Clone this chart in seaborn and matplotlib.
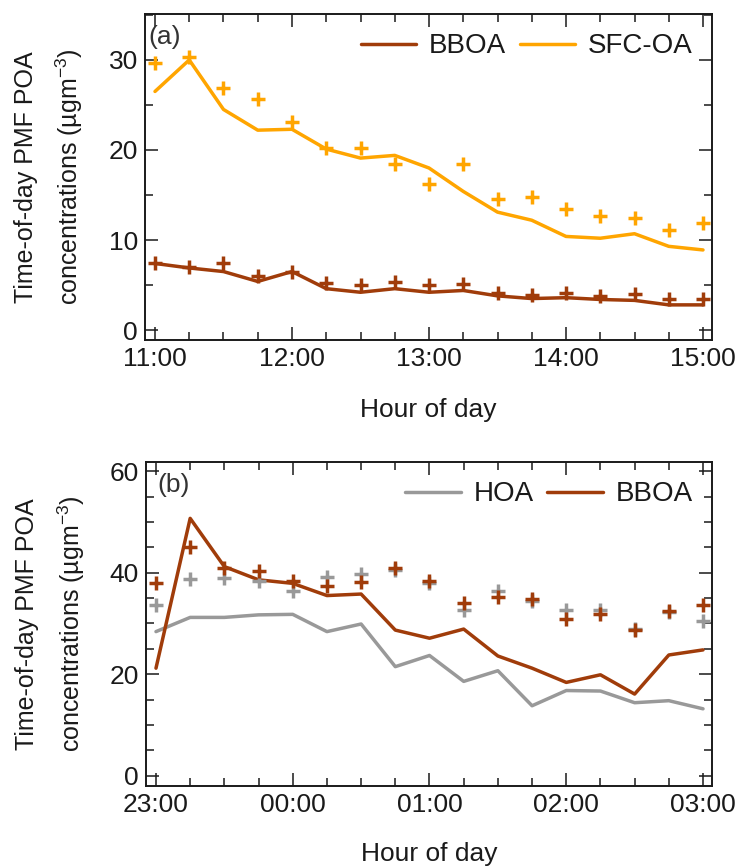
import matplotlib
matplotlib.use("Agg")
import matplotlib.pyplot as plt
from matplotlib.ticker import MultipleLocator, FixedLocator, FixedFormatter
import seaborn as sns

# ---- panel (a): 11:00-15:00 ----
times_a = ["11:00", "11:15", "11:30", "11:45", "12:00", "12:15", "12:30", "12:45",
           "13:00", "13:15", "13:30", "13:45", "14:00", "14:15", "14:30", "14:45", "15:00"]
bboa_line_a = [7.4, 6.9, 6.5, 5.4, 6.5, 4.6, 4.2, 4.6, 4.2, 4.4, 3.8, 3.5, 3.6, 3.4, 3.3, 2.8, 2.8]
sfc_line_a = [26.5, 30.0, 24.5, 22.2, 22.3, 20.1, 19.1, 19.4, 18.0, 15.4, 13.1, 12.2, 10.4, 10.2, 10.7, 9.3, 8.9]
bboa_pts_a = [7.5, 7.0, 7.5, 6.0, 6.5, 5.2, 5.0, 5.3, 5.0, 5.1, 4.1, 3.9, 4.1, 3.8, 4.0, 3.4, 3.4]
sfc_pts_a = [29.7, 30.3, 26.9, 25.7, 23.1, 20.2, 20.2, 18.4, 16.2, 18.4, 14.6, 14.8, 13.5, 12.7, 12.4, 11.1, 11.9]
ticklabels_a = ["11:00", "12:00", "13:00", "14:00", "15:00"]

# ---- panel (b): 23:00-03:00 ----
times_b = ["23:00", "23:15", "23:30", "23:45", "00:00", "00:15", "00:30", "00:45",
           "01:00", "01:15", "01:30", "01:45", "02:00", "02:15", "02:30", "02:45", "03:00"]
hoa_line_b = [28.4, 31.2, 31.2, 31.7, 31.8, 28.4, 29.9, 21.5, 23.7, 18.6, 20.7, 13.8, 16.8, 16.7, 14.4, 14.8, 13.2]
bboa_line_b = [21.2, 50.7, 41.2, 38.6, 37.9, 35.5, 35.8, 28.7, 27.1, 28.9, 23.6, 21.2, 18.4, 19.9, 16.1, 23.8, 24.8]
hoa_pts_b = [33.7, 38.7, 39.0, 38.3, 36.3, 39.2, 39.8, 40.6, 38.0, 32.7, 36.3, 34.4, 32.7, 32.7, 28.9, 32.3, 30.4]
bboa_pts_b = [37.9, 45.0, 40.9, 40.4, 38.4, 37.3, 38.1, 40.9, 38.4, 34.0, 35.3, 34.8, 30.9, 31.8, 28.7, 32.5, 33.7]
ticklabels_b = ["23:00", "00:00", "01:00", "02:00", "03:00"]

C_BBOA = "#A03C0A"
C_SFC = "#FFA500"
C_HOA = "#999999"


def to_hours(labels, wrap_after_midnight=False):
    """Convert HH:MM strings to decimal hours (continuing past midnight if asked)."""
    out = []
    for s in labels:
        h, m = (int(p) for p in s.split(":"))
        if wrap_after_midnight and h < 12:
            h += 24
        out.append(h + m / 60.0)
    return out


sns.set_style("ticks")
plt.rcParams["font.family"] = ["Liberation Sans", "DejaVu Sans"]
plt.rcParams["mathtext.fontset"] = "custom"
plt.rcParams["mathtext.rm"] = "Liberation Sans"
plt.rcParams["mathtext.it"] = "Liberation Sans"

fig = plt.figure(figsize=(7.41, 8.68), dpi=100)
ax_a = fig.add_axes([145 / 741, 1 - 340 / 868, 567 / 741, 326 / 868])
ax_b = fig.add_axes([146 / 741, 1 - 786 / 868, 566 / 741, 324 / 868])

LW = 2.5
MS = 95
MEW = 2.5

# panel (a)
xa = to_hours(times_a)
sns.lineplot(x=xa, y=bboa_line_a, color=C_BBOA, lw=LW, ax=ax_a, label="BBOA", sort=False)
sns.lineplot(x=xa, y=sfc_line_a, color=C_SFC, lw=LW, ax=ax_a, label="SFC-OA", sort=False)
sns.scatterplot(x=xa, y=sfc_pts_a, color=C_SFC, marker="+", s=MS, linewidth=MEW, ax=ax_a, legend=False, zorder=3)
sns.scatterplot(x=xa, y=bboa_pts_a, color=C_BBOA, marker="+", s=MS, linewidth=MEW, ax=ax_a, legend=False, zorder=3)

# panel (b)
xb = to_hours(times_b, wrap_after_midnight=True)
sns.lineplot(x=xb, y=hoa_line_b, color=C_HOA, lw=LW, ax=ax_b, label="HOA", sort=False)
sns.lineplot(x=xb, y=bboa_line_b, color=C_BBOA, lw=LW, ax=ax_b, label="BBOA", sort=False)
sns.scatterplot(x=xb, y=hoa_pts_b, color=C_HOA, marker="+", s=MS, linewidth=MEW, ax=ax_b, legend=False, zorder=3)
sns.scatterplot(x=xb, y=bboa_pts_b, color=C_BBOA, marker="+", s=MS, linewidth=MEW, ax=ax_b, legend=False, zorder=3)

FS = 19
ylabel = "Time-of-day PMF POA\nconcentrations (µgm$^{-3}$)"

for ax, xs, labels, ylim, ymaj, tag, tagx in [
    (ax_a, xa, ticklabels_a, (-1.1, 35.1), 10, "(a)", 0.006),
    (ax_b, xb, ticklabels_b, (-2.0, 61.8), 20, "(b)", 0.02),
]:
    ax.set_xlim(xs[0] - 10 / 137, xs[-1] + 9 / 137)
    ax.set_ylim(*ylim)
    ax.xaxis.set_major_locator(FixedLocator(xs[::4]))
    ax.xaxis.set_major_formatter(FixedFormatter(labels))
    ax.xaxis.set_minor_locator(FixedLocator(xs))
    ax.yaxis.set_major_locator(MultipleLocator(ymaj))
    ax.yaxis.set_minor_locator(MultipleLocator(5))
    ax.tick_params(which="both", direction="in", top=True, right=True, width=1.1,
                   colors="#1a1a1a", labelsize=FS)
    ax.tick_params(which="major", length=9.5, pad=5)
    ax.tick_params(which="minor", length=5.5)
    for sp in ax.spines.values():
        sp.set_linewidth(1.4)
        sp.set_color("#1a1a1a")
    ax.set_xlabel("Hour of day", fontsize=FS, color="#1a1a1a")
    ax.set_ylabel(ylabel, fontsize=18, color="#1a1a1a", linespacing=1.65)
    ax.yaxis.set_label_coords(-0.105, 0.5)
    ax.text(tagx, 0.965, tag, transform=ax.transAxes, fontsize=FS, color="#333333",
            ha="left", va="top")
    leg = ax.legend(loc="upper right", ncol=2, frameon=False, fontsize=20,
                    handlelength=2.0, handletextpad=0.45, columnspacing=0.5,
                    borderaxespad=0.3)
    for line in leg.get_lines():
        line.set_linewidth(LW)
    for t in leg.get_texts():
        t.set_color("#1a1a1a")

ax_a.xaxis.set_label_coords(0.5, -0.178)
ax_b.xaxis.set_label_coords(0.5, -0.172)

fig.savefig("out.png", dpi=100)
